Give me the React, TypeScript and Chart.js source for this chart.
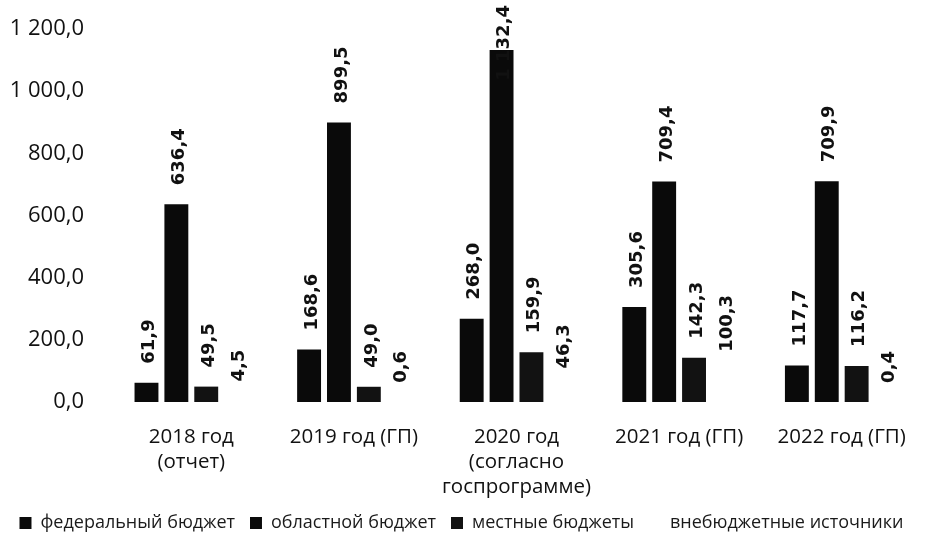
import React, { useEffect, useRef } from "react";
import { Chart, registerables } from "chart.js";

Chart.register(...registerables);

const categories: string[][] = [
  ["2018 год", "(отчет)"],
  ["2019 год (ГП)"],
  ["2020 год", "(согласно", "госпрограмме)"],
  ["2021 год (ГП)"],
  ["2022 год (ГП)"],
];
const seriesNames = [
  "федеральный бюджет",
  "областной бюджет",
  "местные бюджеты",
  "внебюджетные источники",
];
const federal = [61.9, 168.6, 268.0, 305.6, 117.7];
const regional = [636.4, 899.5, 1132.4, 709.4, 709.9];
const local = [49.5, 49.0, 159.9, 142.3, 116.2];
const extra = [4.5, 0.6, 46.3, 100.3, 0.4];
const yMin = 0;
const yMax = 1200;
const yStep = 200;

function fmt(v: number): string {
  const s = v.toFixed(1);
  const [i, d] = s.split(".");
  return i.replace(/\B(?=(\d{3})+(?!\d))/g, " ") + "," + d;
}

const labelPlugin = {
  id: "valueLabels",
  afterDatasetsDraw(chart: any) {
    const ctx = chart.ctx;
    ctx.save();
    ctx.font = "bold 18px 'DejaVu Sans'";
    ctx.fillStyle = "#111111";
    chart.data.datasets.forEach((ds: any, di: number) => {
      const meta = chart.getDatasetMeta(di);
      meta.data.forEach((bar: any, i: number) => {
        const text = fmt(ds.data[i]);
        const w = ctx.measureText(text).width;
        let start = bar.y - 19;
        if (start - w < 5) start = 5 + w;
        ctx.save();
        ctx.translate(bar.x + 3, start);
        ctx.rotate(-Math.PI / 2);
        ctx.textAlign = "left";
        ctx.textBaseline = "middle";
        ctx.fillText(text, 0, 0);
        ctx.restore();
      });
    });
    ctx.restore();
  },
};

export default function App() {
  const ref = useRef<HTMLCanvasElement | null>(null);
  useEffect(() => {
    document.body.style.margin = "0";
    const canvas = ref.current;
    if (!canvas) return;
    const dark = "#0a0a0a";
    const chart = new Chart(canvas, {
      type: "bar",
      data: {
        labels: categories,
        datasets: [
          { label: seriesNames[0], data: federal, backgroundColor: dark },
          { label: seriesNames[1], data: regional, backgroundColor: dark },
          { label: seriesNames[2], data: local, backgroundColor: "#121212" },
          { label: seriesNames[3], data: extra, backgroundColor: "#ffffff" },
        ],
      },
      options: {
        responsive: false,
        animation: false,
        devicePixelRatio: 1,
        datasets: {
          bar: { categoryPercentage: 0.735, barPercentage: 0.8 },
        },
        layout: { padding: { top: 29, right: 12, bottom: 2, left: 0 } },
        plugins: {
          legend: {
            position: "bottom",
            labels: {
              boxWidth: 12,
              boxHeight: 12,
              padding: 15,
              color: "#1a1a1a",
              font: { family: "'Open Sans'", size: 18 },
            },
          },
          tooltip: { enabled: false },
        },
        scales: {
          x: {
            grid: { display: false, drawTicks: false },
            border: { display: false },
            ticks: {
              color: "#111111",
              padding: 23,
              maxRotation: 0,
              autoSkip: false,
              font: { family: "'Open Sans'", size: 20.5, lineHeight: 1.22 },
            },
            afterFit: (scale: any) => {
              scale.height = 97;
            },
          },
          y: {
            min: yMin,
            max: yMax,
            grid: { display: false, drawTicks: false },
            border: { display: false },
            ticks: {
              stepSize: yStep,
              padding: 26,
              color: "#111111",
              font: { family: "'Open Sans'", size: 22 },
              callback: (v: any) => fmt(Number(v)),
            },
            afterFit: (scale: any) => {
              scale.width = 110;
              scale.paddingTop = 0;
              scale.paddingBottom = 0;
            },
          },
        },
      },
      plugins: [labelPlugin],
    });
    return () => chart.destroy();
  }, []);
  return (
    <div style={{ width: 935, height: 544, background: "#ffffff" }}>
      <canvas ref={ref} width={935} height={544} />
    </div>
  );
}
